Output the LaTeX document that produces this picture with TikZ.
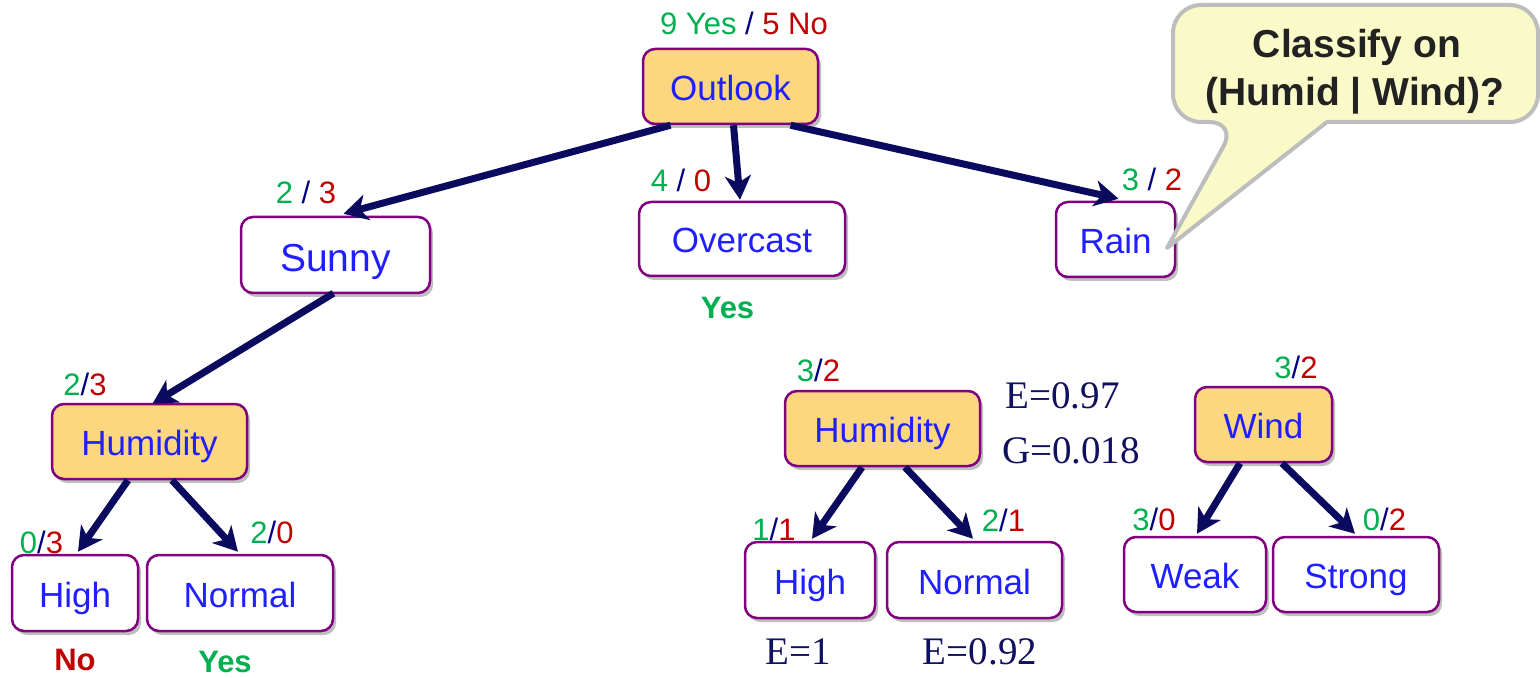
\documentclass[tikz,border=0pt]{standalone}
\usepackage{fontspec}
\setmainfont{Liberation Sans}
\newfontfamily\serifnum{Liberation Serif}
\usetikzlibrary{arrows.meta,shadows,calc}

\definecolor{yesgreen}{HTML}{00B050}
\definecolor{nored}{HTML}{C00000}
\definecolor{slashblue}{HTML}{000080}
\definecolor{nodeblue}{HTML}{2020FF}
\definecolor{boxline}{HTML}{800080}
\definecolor{attrfill}{HTML}{FDD680}
\definecolor{arrowblue}{HTML}{0A0A5E}
\definecolor{calloutfill}{HTML}{FAFAC8}
\definecolor{calloutline}{HTML}{BDBDBD}
\definecolor{callouttext}{HTML}{222222}
\definecolor{mathblue}{HTML}{101060}

% yes/no counts, compact and spaced
\newcommand{\yn}[2]{\textcolor{yesgreen}{#1}\textcolor{slashblue}{/}\textcolor{nored}{#2}}
\newcommand{\ynsp}[2]{\textcolor{yesgreen}{#1} \textcolor{slashblue}{/} \textcolor{nored}{#2}}

\begin{document}
\begin{tikzpicture}[x=0.5pt,y=-0.5pt,
  box/.style={draw=boxline, line width=1.25pt, rounded corners=6pt, fill=white,
    text=nodeblue, font=\fontsize{17.5}{20}\selectfont, inner sep=0pt,
    text height=14.5pt, text depth=0.5pt,
    drop shadow={shadow xshift=1.5pt, shadow yshift=-2pt, opacity=0.25, fill=black}},
  attr/.style={box, fill=attrfill},
  cnt/.style={font=\fontsize{15.5}{18}\selectfont, anchor=base, inner sep=0pt},
  verdict/.style={font=\bfseries\fontsize{15.5}{18}\selectfont, anchor=base, inner sep=0pt},
  stat/.style={font=\serifnum\fontsize{19.5}{22}\selectfont, text=mathblue, anchor=base, inner sep=0pt},
  arr/.style={draw=arrowblue, line width=3.5pt,
    -{Stealth[length=12pt, width=13pt, inset=3.5pt]}},
  callout/.style={draw=calloutline, line width=2pt, fill=calloutfill, line join=round},
  asktext/.style={font=\bfseries\fontsize{19.5}{24}\selectfont, text=callouttext, anchor=base, inner sep=0pt}
]
\useasboundingbox (0,0) rectangle (1540,678);

% ---- main tree ----
\node[attr, minimum width=87.5pt, minimum height=37.5pt] (outlook) at (730.5,86.5) {Outlook};
\node[box, minimum width=94.5pt, minimum height=38pt, font=\fontsize{19.5}{22}\selectfont,
      text height=17pt] (sunny) at (335.5,255) {Sunny};
\node[box, minimum width=103pt, minimum height=37pt] (overcast) at (742,239) {Overcast};
\node[box, minimum width=59.5pt, minimum height=37.5pt] (rain) at (1115.5,239.5) {Rain};

\node[attr, minimum width=97.5pt, minimum height=37.5pt] (humL) at (149.5,441.5) {Humidity};
\node[box, minimum width=63pt, minimum height=38pt] (highL) at (75,593) {High};
\node[box, minimum width=93pt, minimum height=38pt] (normL) at (240,593) {Normal};

% ---- candidate splits under Rain ----
\node[attr, minimum width=97.5pt, minimum height=37.5pt] (humR) at (882.5,428.5) {Humidity};
\node[box, minimum width=65pt, minimum height=38pt] (highR) at (810,580) {High};
\node[box, minimum width=87.5pt, minimum height=38pt] (normR) at (974.5,580) {Normal};

\node[attr, minimum width=68.5pt, minimum height=37.5pt] (wind) at (1263.5,424.5) {Wind};
\node[box, minimum width=71pt, minimum height=37.5pt] (weak) at (1195,574.5) {Weak};
\node[box, minimum width=83pt, minimum height=37.5pt] (strong) at (1356,574.5) {Strong};

% ---- connectors ----
\draw[arr] ($(outlook.south)+(-60,0)$) -- ($(sunny.north)+(8,-2)$);
\draw[arr] ($(outlook.south)+(3,0)$) -- ($(overcast.north)+(-2,-1)$);
\draw[arr] ($(outlook.south)+(60,0)$) -- ($(rain.north)+(3,-2)$);
\draw[arr] ($(sunny.south)+(-2,-1)$) -- ($(humL.north)+(3,1)$);
\draw[arr] ($(humL.south)+(-21.5,0)$) -- ($(highL.north)+(3,-2)$);
\draw[arr] ($(humL.south)+(22.5,0)$) -- ($(normL.north)+(-2,-2)$);
\draw[arr] ($(humR.south)+(-20.5,0)$) -- ($(highR.north)+(2,-2)$);
\draw[arr] ($(humR.south)+(22.5,0)$) -- ($(normR.north)+(-1.5,-2)$);
\draw[arr] ($(wind.south)+(-23.5,0)$) -- ($(weak.north)+(2,-2)$);
\draw[arr] ($(wind.south)+(18.5,0)$) -- ($(strong.north)+(-1,-2)$);

% ---- class counts ----
\node[cnt] (cOut) at (744,35) {\textcolor{yesgreen}{9 Yes} \textcolor{slashblue}{/} \textcolor{nored}{5 No}};
\node[cnt] (cSun) at (306,204) {\ynsp{2}{3}};
\node[cnt] (cOve) at (681,192) {\ynsp{4}{0}};
\node[cnt] (cRai) at (1152,191) {\ynsp{3}{2}};
\node[cnt] (cHumL) at (85,395) {\yn{2}{3}};
\node[cnt] (cHighL) at (41.5,553) {\yn{0}{3}};
\node[cnt] (cNormL) at (272,543) {\yn{2}{0}};
\node[cnt] (cHumR) at (818.5,381) {\yn{3}{2}};
\node[cnt] (cHighR) at (774,540) {\yn{1}{1}};
\node[cnt] (cNormR) at (1003.5,531) {\yn{2}{1}};
\node[cnt] (cWind) at (1296,379) {\yn{3}{2}};
\node[cnt] (cWeak) at (1154,530) {\yn{3}{0}};
\node[cnt] (cStrong) at (1384.5,530) {\yn{0}{2}};

% ---- leaf decisions ----
\node[verdict, text=yesgreen] (vOve) at (727.5,319) {Yes};
\node[verdict, text=nored] (vHigh) at (75,670) {No};
\node[verdict, text=yesgreen] (vNorm) at (225,672) {Yes};

% ---- entropy / gain ----
\node[stat] (eHum) at (1062.5,408) {E=0.97};
\node[stat] (gHum) at (1071,463) {G=0.018};
\node[stat] (eHigh) at (798.5,664) {E=1};
\node[stat] (eNorm) at (980,664) {E=0.92};

% ---- speech bubble ----
\path[callout] (1173,60) [rounded corners=14pt] -- (1173,122) -- (1237,122)
  [sharp corners] -- (1167,248) -- (1327,122)
  [rounded corners=14pt] -- (1538,122) -- (1538,5) -- (1173,5) -- cycle;
\node[asktext] (q1) at (1357,58) {Classify on};
\node[asktext] (q2) at (1355,106) {(Humid | Wind)?};
\end{tikzpicture}
\end{document}
